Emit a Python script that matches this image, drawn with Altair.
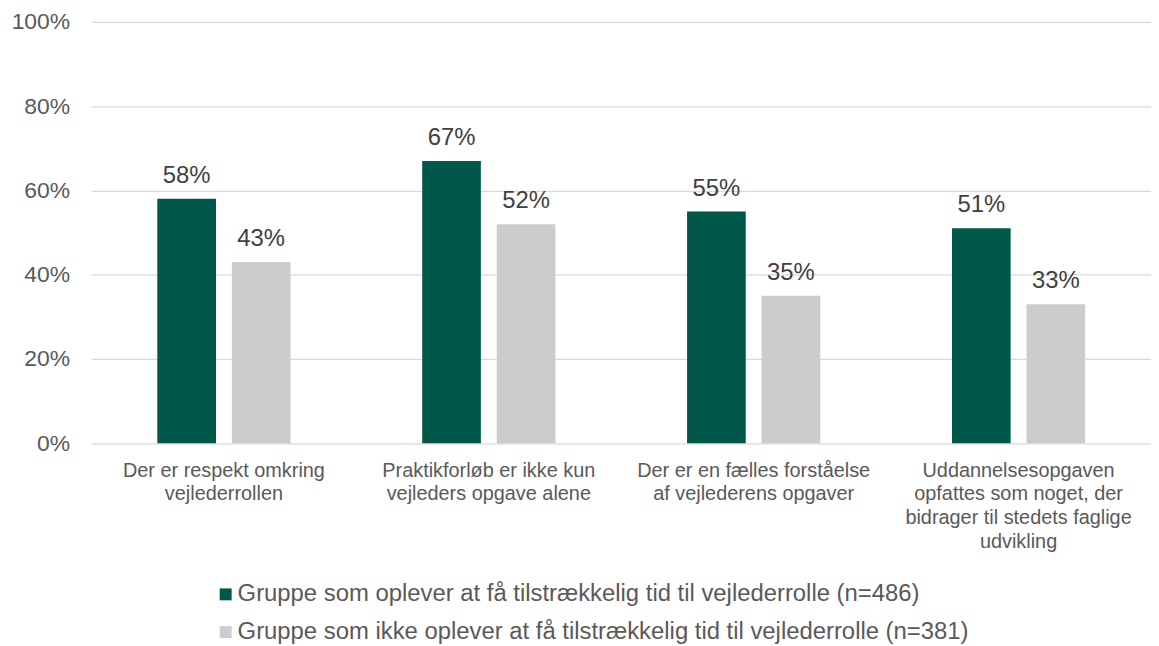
import altair as alt
import pandas as pd

categories = [
    "Der er respekt omkring\nvejlederrollen",
    "Praktikforløb er ikke kun\nvejleders opgave alene",
    "Der er en fælles forståelse\naf vejlederens opgaver",
    "Uddannelsesopgaven\nopfattes som noget, der\nbidrager til stedets faglige\nudvikling",
]
groups = [
    "Gruppe som oplever at få tilstrækkelig tid til vejlederrolle (n=486)",
    "Gruppe som ikke oplever at få tilstrækkelig tid til vejlederrolle (n=381)",
]
green_values = [0.58, 0.67, 0.55, 0.51]
grey_values = [0.43, 0.52, 0.35, 0.33]
colors = ["#00574A", "#CCCCCC"]
y_ticks = [0, 0.2, 0.4, 0.6, 0.8, 1.0]

rows = []
for c, v1, v2 in zip(categories, green_values, grey_values):
    rows.append({"cat": c, "group": groups[0], "value": v1})
    rows.append({"cat": c, "group": groups[1], "value": v2})
df = pd.DataFrame(rows)

x = alt.X(
    "cat:N",
    sort=categories,
    scale=alt.Scale(paddingInner=0, paddingOuter=0),
    axis=alt.Axis(
        title=None,
        labelExpr="split(datum.label, '\\n')",
        labelAngle=0,
        labelFontSize=20,
        labelColor="#595959",
        labelPadding=17,
        labelLineHeight=24,
        domain=False,
        ticks=False,
        labelLimit=0,
    ),
)
xo = alt.XOffset(
    "group:N", sort=groups, scale=alt.Scale(paddingInner=0.213, paddingOuter=0.883)
)
y = alt.Y(
    "value:Q",
    scale=alt.Scale(domain=[0, 1]),
    axis=alt.Axis(
        format=".0%",
        values=y_ticks,
        title=None,
        labelFontSize=23,
        labelColor="#595959",
        labelPadding=22,
        domain=False,
        ticks=False,
        gridColor="#D9D9D9",
        gridWidth=1.3,
    ),
)

bars = alt.Chart(df).mark_bar().encode(
    x=x,
    xOffset=xo,
    y=y,
    color=alt.Color(
        "group:N",
        sort=groups,
        scale=alt.Scale(domain=groups, range=colors),
        legend=alt.Legend(
            title=None,
            orient="none",
            legendX=123,
            legendY=564,
            direction="vertical",
            symbolType="square",
            symbolSize=144,
            symbolStrokeWidth=0,
            labelFontSize=24,
            labelColor="#595959",
            rowPadding=14,
            labelLimit=0,
            labelOffset=0,
        ),
    ),
)

labels = alt.Chart(df).mark_text(
    baseline="alphabetic", dy=-16, fontSize=24, color="#404040"
).encode(
    x=x,
    xOffset=xo,
    y=y,
    text=alt.Text("value:Q", format=".0%"),
)

chart = (
    alt.layer(bars, labels)
    .properties(
        width=1066,
        height=424,
        autosize=alt.AutoSizeParams(type="none"),
        padding={"left": 84, "top": 12, "right": 0, "bottom": 202},
    )
    .configure(font="Liberation Sans")
    .configure_view(stroke=None)
)

chart.save("out.html", embed_options={"renderer": "svg", "actions": False})
